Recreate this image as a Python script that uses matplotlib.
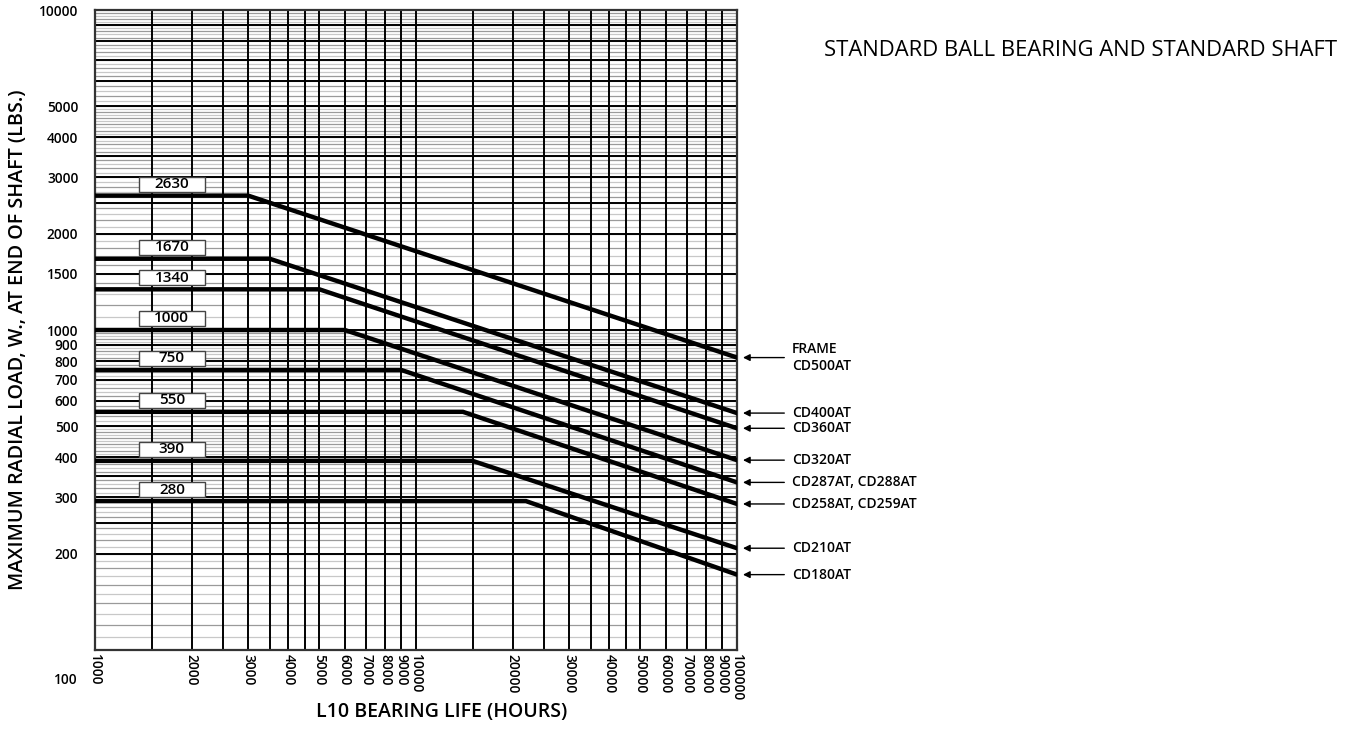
import numpy as np
import matplotlib
matplotlib.use('Agg')
import matplotlib.pyplot as plt
from matplotlib.patches import Rectangle

plt.rcParams['font.family'] = ['Open Sans', 'DejaVu Sans']

# 曲线数据：平直段载荷、拐点寿命、100000小时处载荷
frames = ['FRAME\nCD500AT', 'CD400AT', 'CD360AT', 'CD320AT',
          'CD287AT, CD288AT', 'CD258AT, CD259AT', 'CD210AT', 'CD180AT']
box_labels = ['2630', '1670', '1340', '1000', '750', '550', '390', '280']
flat_load = [2630, 1670, 1340, 1000, 750, 555, 390, 292]
knee_life = [3000, 3500, 5000, 6000, 9000, 14000, 15000, 22000]
end_load = [820, 550, 493, 392, 334, 286, 208, 172]

life_start = 1000
life_end = 100000

# 坐标轴刻度
y_ticks = [100, 200, 300, 400, 500, 600, 700, 800, 900, 1000, 1500, 2000, 3000, 4000, 5000, 10000]
x_ticks = [1000, 2000, 3000, 4000, 5000, 6000, 7000, 8000, 9000, 10000,
           20000, 30000, 40000, 50000, 60000, 70000, 80000, 90000, 100000]
x_grid = [1500, 2000, 2500, 3000, 3500, 4000, 4500, 5000, 6000, 7000, 8000, 9000, 10000,
          15000, 20000, 25000, 30000, 35000, 40000, 45000, 50000, 60000, 70000, 80000, 90000]
y_major_low = [100, 200, 250, 300, 350, 400, 500, 600, 700, 800, 900]
y_major_high = [1000, 1500, 2000, 2500, 3000, 3500, 4000, 5000, 6000, 7000, 8000, 9000, 10000]

fig = plt.figure(figsize=(13.49, 7.30), dpi=100)
ax = fig.add_axes([95 / 1349, 80 / 730, 642 / 1349, 640 / 730])
ax.set_xscale('log')
ax.set_yscale('log')
ax.set_xlim(life_start, life_end)
ax.set_ylim(100, 10000)

# 横向网格（细灰线 + 黑线）
for dec in [100, 1000]:
    minors = list(np.arange(1, 5, 0.1)) + list(np.arange(5, 10, 0.2))
    for i, m in enumerate(minors):
        c = '#9a9a9a' if i % 2 == 0 else '#c8c8c8'
        ax.axhline(dec * m, color=c, lw=0.9, zorder=1)
for v in y_major_low + y_major_high:
    ax.axhline(v, color='black', lw=1.4, zorder=2)

# 纵向网格
for v in x_grid:
    ax.axvline(v, color='black', lw=1.4, zorder=2)

# 载荷曲线
for fl, kl, el in zip(flat_load, knee_life, end_load):
    ax.plot([life_start, kl, life_end], [fl, fl, el], color='black', lw=3.2,
            solid_joinstyle='miter', zorder=4)

# 数值标签框
for lab, fl in zip(box_labels, flat_load):
    ax.add_patch(Rectangle((1370, fl * 1.029), 2200 - 1370, fl * 1.147 - fl * 1.029,
                           facecolor='white', edgecolor='#444444', lw=1.0, zorder=5))
    ax.text(np.sqrt(1370 * 2200), fl * np.sqrt(1.029 * 1.147), lab, ha='center', va='center',
            fontsize=11, fontweight='semibold', zorder=6)

# 右侧机座号箭头
for name, el in zip(frames, end_load):
    ax.annotate('', xy=(1.005, el), xycoords=('axes fraction', 'data'),
                xytext=(1.078, el), textcoords=('axes fraction', 'data'),
                arrowprops=dict(arrowstyle='-|>', color='black', lw=1.0, mutation_scale=10),
                annotation_clip=False)
    ax.text(1.086, el, name, transform=ax.get_yaxis_transform(), ha='left', va='center',
            fontsize=10, fontweight='semibold', linespacing=1.25)

# 刻度
ax.set_yticks(y_ticks)
ax.set_yticklabels(['' if v == 100 else str(v) for v in y_ticks])
ax.yaxis.set_minor_locator(matplotlib.ticker.NullLocator())
ax.set_xticks(x_ticks)
ax.set_xticklabels([str(v) for v in x_ticks], rotation=270)
ax.xaxis.set_minor_locator(matplotlib.ticker.NullLocator())
ax.tick_params(axis='y', length=0, pad=12, labelsize=9.8)
ax.tick_params(axis='x', length=0, pad=3, labelsize=9.8)
for t in ax.get_xticklabels() + ax.get_yticklabels():
    t.set_fontweight('semibold')
ax.annotate('100', xy=(0, 100), xycoords=('axes fraction', 'data'), xytext=(-17, -30),
            textcoords='offset pixels', ha='right', va='center', fontsize=9.8,
            fontweight='semibold', annotation_clip=False)

for s in ax.spines.values():
    s.set_color('#333333')
    s.set_linewidth(1.6)

fig.text(18 / 1349, 1 - 340 / 730, 'MAXIMUM RADIAL LOAD, W., AT END OF SHAFT (LBS.)',
         rotation=90, ha='center', va='center', fontsize=14.2, fontweight='semibold')
fig.text(442 / 1349, 1 - 712 / 730, 'L10 BEARING LIFE (HOURS)',
         ha='center', va='center', fontsize=14, fontweight='semibold')
fig.text(1081 / 1349, 1 - 50 / 730, 'STANDARD BALL BEARING AND STANDARD SHAFT',
         ha='center', va='center', fontsize=15.8)

fig.savefig('out.png', dpi=100)
